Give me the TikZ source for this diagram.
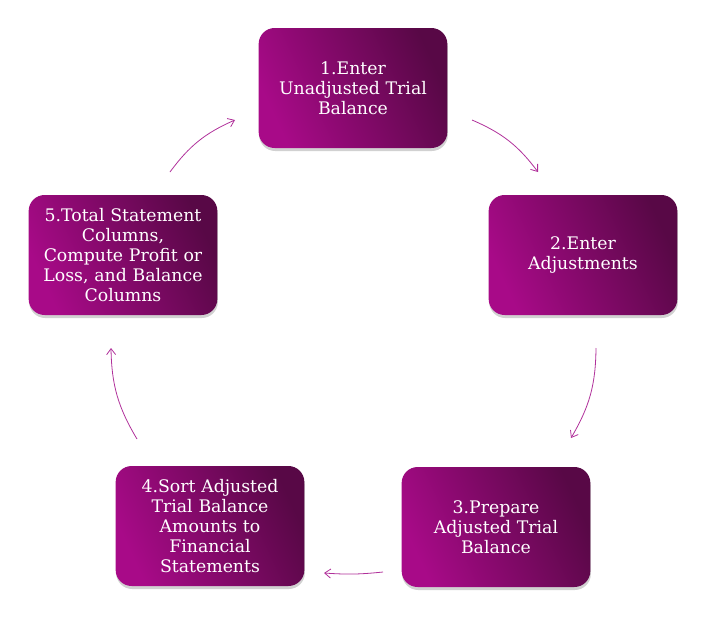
\documentclass[tikz,border=0pt]{standalone}
\usepackage{fontspec}
\setmainfont{DejaVu Serif}
\usetikzlibrary{shadows,arrows.meta}
\definecolor{boxlight}{HTML}{A80A88}
\definecolor{boxdark}{HTML}{580846}
\definecolor{arrowc}{HTML}{B0309A}
\tikzset{
  stepbox/.style={rounded corners=16pt, minimum width=186pt, minimum height=120pt,
    text width=182pt, align=center, text=white, font=\fontsize{17.3}{20.2}\selectfont,
    left color=boxlight, right color=boxdark, shading angle=115,
    drop shadow={shadow xshift=0.5pt, shadow yshift=-3pt, opacity=0.3, fill=black!60}},
  flow/.style={draw=arrowc, line width=0.8pt, -{Straight Barb[length=6pt,width=9pt]}}
}
\begin{document}
\begin{tikzpicture}[x=1pt,y=-1pt]
\useasboundingbox (0,0) rectangle (713,619);
\node[stepbox] (b1) at (353,88) {1.Enter\\Unadjusted Trial\\Balance};
\node[stepbox] (b2) at (583,255) {2.Enter\\Adjustments};
\node[stepbox] (b3) at (496,527) {3.Prepare\\Adjusted Trial\\Balance};
\node[stepbox] (b4) at (210,526) {4.Sort Adjusted\\Trial Balance\\Amounts to\\Financial\\Statements};
\node[stepbox] (b5) at (123,255) {5.Total Statement\\Columns,\\Compute Profit or\\Loss, and Balance\\Columns};
\coordinate (a1s) at (472,120); \coordinate (a1e) at (538,172);
\coordinate (a2s) at (596,348); \coordinate (a2e) at (571,438);
\coordinate (a3s) at (383,572); \coordinate (a3e) at (324,573);
\coordinate (a4s) at (137,439); \coordinate (a4e) at (111,348);
\coordinate (a5s) at (170,172); \coordinate (a5e) at (235,120);
\draw[flow] (a1s) to[bend left=15] (a1e);
\draw[flow] (a2s) to[bend left=15] (a2e);
\draw[flow] (a3s) to[bend left=5] (a3e);
\draw[flow] (a4s) to[bend left=15] (a4e);
\draw[flow] (a5s) to[bend left=15] (a5e);
\end{tikzpicture}
\end{document}
